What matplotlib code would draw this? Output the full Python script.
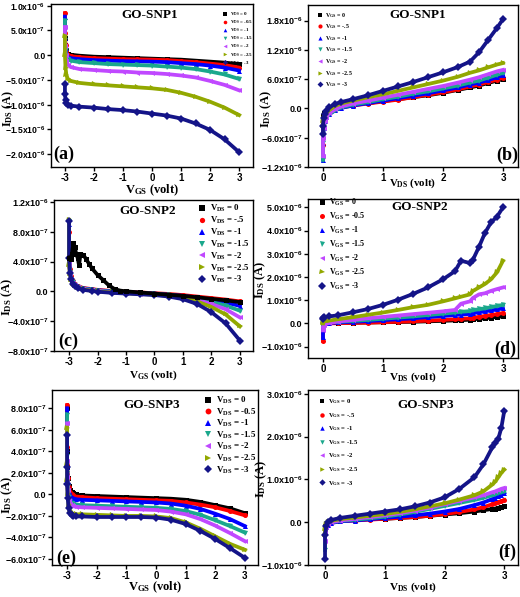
import numpy as np
import matplotlib
matplotlib.use("Agg")
import matplotlib.pyplot as plt
from matplotlib.lines import Line2D
from matplotlib.ticker import MultipleLocator, FuncFormatter

plt.rcParams.update({
    "font.family": "Liberation Serif",
    "font.weight": "bold",
    "mathtext.fontset": "custom",
    "mathtext.rm": "Liberation Sans:bold",
    "mathtext.bf": "Liberation Serif:bold",
    "mathtext.it": "Liberation Serif:bold",
    "axes.linewidth": 1.0,
})

W, H = 520, 597

colors = ['#000000', '#ff0000', '#0000ff', '#1aa88c', '#c048ff', '#92a800', '#141488']
markers = ['s', 'o', '^', 'v', '<', '>', 'D']

# ---- (a) GO-SNP1, I_DS vs V_GS, values x1e-7 ----
a_x = [-3.0, -3.0, -2.98, -2.95, -2.9, -2.8, -2.5, -2, -1.5, -1, -0.5, 0, 0.5, 1, 1.5, 2, 2.5, 3]
a_y = [
    [3.5, 2.0, 1.0, 0.5, 0.3, 0.1, -0.1, -0.3, -0.4, -0.5, -0.6, -0.7, -0.8, -0.9, -1.1, -1.3, -1.5, -1.8],
    [8.5, 4.5, 2.0, 0.8, 0.1, -0.2, -0.4, -0.6, -0.7, -0.8, -0.85, -0.9, -1.0, -1.2, -1.4, -1.7, -2.0, -2.5],
    [7.8, 3.5, 1.5, 0.3, -0.3, -0.6, -0.8, -1.0, -1.1, -1.2, -1.25, -1.3, -1.4, -1.6, -1.8, -2.1, -2.5, -3.1],
    [7.0, 3.0, 1.0, -0.3, -0.8, -1.1, -1.4, -1.6, -1.8, -1.9, -2.0, -2.1, -2.3, -2.5, -2.8, -3.3, -3.9, -4.8],
    [5.7, 1.8, 0.0, -1.2, -1.9, -2.4, -2.8, -3.0, -3.2, -3.3, -3.5, -3.6, -3.8, -4.1, -4.5, -5.2, -6.0, -7.1],
    [3.8, 0.0, -2.5, -4.0, -4.8, -5.2, -5.6, -5.9, -6.1, -6.3, -6.5, -6.7, -7.0, -7.6, -8.4, -9.4, -10.6, -12.1],
    [-5.8, -7.8, -9.0, -9.7, -10.0, -10.2, -10.4, -10.6, -10.9, -11.1, -11.4, -11.8, -12.2, -12.8, -13.8, -15.1, -17.0, -19.6],
]
a_labels = ['0', '-0.5', '-1', '-1.5', '-2', '-2.5', '-3']

# ---- (b) GO-SNP1, I_DS vs V_DS, values x1e-7 ----
b_x = [0.0, 0.0, 0.01, 0.03, 0.05, 0.1, 0.2, 0.3, 0.5, 0.75, 1.0, 1.25, 1.5, 1.75, 2.0, 2.25, 2.45, 2.6, 2.75, 2.9, 3.0]
b_y = [
    [-2.0, -1.5, -1.0, -1.0, -0.7, -0.3, 0.3, 0.5, 0.8, 1.1, 1.5, 1.9, 2.3, 2.7, 3.2, 3.8, 4.3, 4.7, 5.2, 5.7, 6.0],
    [-7.5, -4.0, -2.5, -1.8, -1.4, -0.9, -0.2, 0.2, 0.6, 1.0, 1.4, 1.8, 2.3, 2.8, 3.3, 3.9, 4.5, 4.9, 5.4, 5.9, 6.3],
    [-10.5, -7.0, -4.0, -2.5, -1.8, -1.2, -0.4, 0.1, 0.6, 1.1, 1.6, 2.1, 2.6, 3.1, 3.7, 4.3, 4.9, 5.3, 5.8, 6.4, 6.8],
    [-10.5, -7.0, -4.5, -2.8, -2.0, -1.2, -0.4, 0.2, 0.8, 1.3, 1.9, 2.4, 3.0, 3.5, 4.1, 4.7, 5.3, 5.7, 6.3, 6.9, 7.3],
    [-9.8, -6.0, -4.0, -2.5, -1.8, -1.0, -0.2, 0.4, 1.0, 1.6, 2.2, 2.8, 3.4, 4.0, 4.6, 5.3, 5.9, 6.4, 7.0, 7.6, 7.9],
    [-3.5, -2.5, -2.0, -1.5, -1.0, -0.4, 0.5, 1.0, 1.6, 2.3, 2.9, 3.6, 4.3, 5.0, 5.7, 6.5, 7.3, 7.8, 8.4, 9.0, 9.3],
    [-5.2, -3.5, -2.0, -1.2, -0.6, 0.2, 0.9, 1.3, 1.9, 2.7, 3.6, 4.5, 5.4, 6.4, 7.4, 8.5, 9.6, 11.5, 14.0, 16.5, 18.3],
]
b_labels = ['0', '-.5', '-1', '-1.5', '-2', '-2.5', '-3']

# ---- (c) GO-SNP2, I_DS vs V_GS, values x1e-7 ----
c_x = [-3.0, -3.0, -2.97, -2.93, -2.88, -2.8, -2.7, -2.5, -2.2, -2.0, -1.5, -1.0, -0.5, 0.0, 0.5, 1.0, 1.5, 2.0, 2.5, 3.0]
c_black_x = [-3.0, -2.95, -2.9, -2.85, -2.8, -2.75, -2.7, -2.65, -2.6, -2.5, -2.4, -2.3, -2.2, -2.0, -1.8,
             -1.6, -1.4, -1.2, -1.0, -0.5, 0, 0.5, 1, 1.5, 2, 2.5, 3]
c_black_y = [4.5, 4.4, 5.0, 6.5, 6.0, 5.0, 4.5, 3.5, 5.0, 4.9, 4.3, 3.7, 3.1, 2.2, 1.5,
             0.8, 0.3, 0.1, 0.0, -0.15, -0.3, -0.45, -0.6, -0.8, -1.0, -1.2, -1.45]
c_y = [
    [8.0, 4.8, 3.0, 2.0, 1.4, 1.0, 0.7, 0.45, 0.3, 0.2, 0.05, -0.05, -0.15, -0.25, -0.35, -0.5, -0.7, -0.9, -1.1, -1.35],
    [9.0, 4.5, 2.8, 1.8, 1.3, 0.9, 0.65, 0.4, 0.25, 0.15, 0.0, -0.1, -0.2, -0.3, -0.45, -0.6, -0.85, -1.15, -1.5, -1.95],
    [9.5, 4.2, 2.6, 1.7, 1.2, 0.85, 0.6, 0.35, 0.2, 0.1, -0.05, -0.15, -0.25, -0.35, -0.5, -0.7, -1.0, -1.4, -1.9, -2.6],
    [4.8, 3.7, 2.4, 1.6, 1.1, 0.8, 0.55, 0.3, 0.15, 0.05, -0.1, -0.2, -0.3, -0.4, -0.55, -0.8, -1.15, -1.7, -2.4, -3.5],
    [9.6, 3.5, 2.3, 1.5, 1.0, 0.75, 0.5, 0.25, 0.1, 0.0, -0.15, -0.25, -0.35, -0.45, -0.6, -0.9, -1.35, -2.1, -3.1, -4.7],
    [9.4, 4.5, 2.5, 1.6, 1.0, 0.7, 0.45, 0.2, 0.05, -0.05, -0.2, -0.3, -0.4, -0.5, -0.7, -1.05, -1.7, -2.8, -4.3, -6.6],
]
c_labels = ['0', '-.5', '-1', '-1.5', '-2', '-2.5', '-3']

# ---- (d) GO-SNP2, I_DS vs V_DS, values x1e-6 ----
d_x = [0.0, 0.0, 0.02, 0.1, 0.25, 0.5, 0.75, 1.0, 1.25, 1.5, 1.75, 2.0, 2.2, 2.3, 2.45, 2.5, 2.6, 2.7, 2.8, 2.9, 3.0]
d_y = [
    [0.0, 0.0, 0.0, 0.01, 0.02, 0.03, 0.04, 0.05, 0.06, 0.07, 0.09, 0.11, 0.13, 0.14, 0.16, 0.18, 0.2, 0.22, 0.25, 0.28, 0.3],
    [-0.75, -0.3, -0.05, 0.0, 0.01, 0.02, 0.03, 0.05, 0.07, 0.09, 0.12, 0.15, 0.18, 0.2, 0.22, 0.25, 0.28, 0.32, 0.36, 0.4, 0.45],
    [-0.6, -0.2, 0.0, 0.02, 0.04, 0.07, 0.1, 0.14, 0.18, 0.22, 0.27, 0.32, 0.36, 0.38, 0.41, 0.44, 0.48, 0.52, 0.56, 0.6, 0.65],
    [-0.1, 0.0, 0.02, 0.04, 0.07, 0.11, 0.15, 0.2, 0.25, 0.3, 0.36, 0.42, 0.47, 0.5, 0.53, 0.57, 0.61, 0.65, 0.7, 0.75, 0.8],
    [-0.3, -0.15, -0.05, 0.02, 0.08, 0.15, 0.22, 0.28, 0.34, 0.4, 0.46, 0.52, 0.58, 0.85, 0.95, 1.1, 1.25, 1.3, 1.4, 1.48, 1.55],
    [0.0, 0.05, 0.08, 0.12, 0.18, 0.27, 0.37, 0.47, 0.58, 0.7, 0.8, 0.95, 1.08, 1.15, 1.25, 1.4, 1.55, 1.7, 1.9, 2.2, 2.7],
    [0.2, 0.25, 0.27, 0.3, 0.35, 0.48, 0.62, 0.8, 1.02, 1.27, 1.55, 1.9, 2.25, 2.7, 2.6, 2.75, 3.3, 3.9, 4.35, 4.6, 5.0],
]
d_labels = ['0', '-0.5', '-1', '-1.5', '-2', '-2.5', '-3']

# ---- (e) GO-SNP3, I_DS vs V_GS, values x1e-7 ----
e_x = [-3.0, -3.0, -3.0, -2.98, -2.95, -2.9, -2.85, -2.8, -2.7, -2.5, -2.0, -1.5, -1.0, -0.5, 0.0, 0.5, 1.0, 1.5, 2.0, 2.5, 3.0]
e_y = [
    [8.0, 4.0, 2.5, 1.5, 0.8, 0.4, 0.2, 0.1, 0.0, -0.1, -0.15, -0.2, -0.25, -0.3, -0.35, -0.4, -0.5, -0.7, -1.0, -1.3, -1.75],
    [8.3, 4.4, 2.7, 1.5, 0.7, 0.2, 0.0, -0.1, -0.2, -0.25, -0.35, -0.4, -0.45, -0.5, -0.55, -0.6, -0.75, -0.95, -1.2, -1.55, -1.95],
    [8.0, 4.2, 2.5, 1.2, 0.3, -0.1, -0.25, -0.35, -0.45, -0.5, -0.55, -0.6, -0.65, -0.7, -0.75, -0.85, -1.05, -1.35, -1.8, -2.3, -2.95],
    [7.4, 3.6, 2.0, 0.8, -0.2, -0.6, -0.8, -0.9, -0.95, -1.0, -1.05, -1.1, -1.15, -1.2, -1.25, -1.35, -1.55, -1.9, -2.4, -2.95, -3.55],
    [6.6, 3.1, 1.6, 0.4, -0.5, -0.9, -1.0, -1.1, -1.15, -1.2, -1.25, -1.3, -1.35, -1.4, -1.45, -1.6, -1.85, -2.3, -2.9, -3.6, -4.35],
    [6.2, 2.8, 1.3, 0.0, -1.0, -1.5, -1.7, -1.8, -1.85, -1.85, -1.9, -1.95, -2.0, -2.0, -2.05, -2.2, -2.6, -3.2, -3.9, -4.6, -5.15],
    [5.5, 2.5, 1.0, -0.3, -1.3, -1.7, -1.9, -2.0, -2.05, -2.05, -2.1, -2.1, -2.1, -2.1, -2.15, -2.35, -2.75, -3.4, -4.15, -5.0, -5.9],
]
e_labels = ['0', '-0.5', '-1', '-1.5', '-2', '-2.5', '-3']

# ---- (f) GO-SNP3, I_DS vs V_DS, values x1e-6 ----
f_x = [0.0, 0.0, 0.02, 0.05, 0.1, 0.25, 0.5, 0.75, 1.0, 1.25, 1.5, 1.75, 2.0, 2.25, 2.5, 2.65, 2.8, 2.85, 2.9, 2.95, 3.0]
f_y = [
    [-0.15, -0.1, -0.05, 0.0, 0.02, 0.04, 0.06, 0.07, 0.08, 0.1, 0.12, 0.15, 0.18, 0.21, 0.25, 0.28, 0.31, 0.32, 0.34, 0.35, 0.37],
    [-0.25, -0.15, -0.08, -0.04, -0.01, 0.02, 0.04, 0.06, 0.08, 0.1, 0.12, 0.15, 0.19, 0.24, 0.3, 0.35, 0.42, 0.44, 0.47, 0.49, 0.52],
    [-0.4, -0.2, -0.12, -0.06, -0.02, 0.02, 0.04, 0.07, 0.1, 0.13, 0.16, 0.2, 0.25, 0.31, 0.4, 0.46, 0.54, 0.57, 0.61, 0.64, 0.68],
    [-0.65, -0.3, -0.1, -0.04, 0.0, 0.03, 0.06, 0.09, 0.13, 0.18, 0.24, 0.31, 0.38, 0.45, 0.52, 0.57, 0.63, 0.65, 0.68, 0.7, 0.72],
    [-0.43, -0.25, -0.12, -0.05, 0.0, 0.04, 0.08, 0.12, 0.16, 0.21, 0.27, 0.34, 0.42, 0.5, 0.58, 0.63, 0.7, 0.72, 0.75, 0.78, 0.8],
    [-0.3, -0.15, -0.05, 0.0, 0.03, 0.07, 0.11, 0.15, 0.19, 0.24, 0.3, 0.37, 0.44, 0.53, 0.63, 0.72, 0.88, 0.95, 1.05, 1.15, 1.23],
    [-0.85, -0.3, -0.1, 0.0, 0.05, 0.1, 0.15, 0.2, 0.25, 0.3, 0.37, 0.46, 0.58, 0.78, 1.05, 1.35, 1.75, 1.85, 1.95, 2.2, 2.6],
]
f_labels = ['0', '-.5', '-1', '-1.5', '-2', '-2.5', '-3']


def sci(v, pos):
    if abs(v) < 1e-12:
        return '0.0'
    e = int(np.floor(np.log10(abs(v)) + 1e-9))
    return r'$\mathrm{%.1fx10^{%d}}$' % (v / 10 ** e, e)


def make_axes(fig, l, t, r, b):
    return fig.add_axes([l / W, 1 - b / H, (r - l) / W, (b - t) / H])


def style(ax, xlim, ylim, ystep, xlab, ylab, xlab_y, ylab_xy, xfs=8.5, yts=6.5, yfs=9):
    ax.set_xlim(*xlim)
    ax.set_ylim(*ylim)
    ax.xaxis.set_major_locator(MultipleLocator(1))
    ax.yaxis.set_major_locator(MultipleLocator(ystep))
    ax.yaxis.set_major_formatter(FuncFormatter(sci))
    ax.xaxis.set_major_formatter(FuncFormatter(lambda v, p: '%d' % round(v)))
    ax.tick_params(direction='out', length=3, width=1, pad=1.0,
                   labelfontfamily='Liberation Sans')
    ax.tick_params(axis='x', labelsize=7)
    ax.tick_params(axis='y', labelsize=yts)
    ax.set_xlabel(xlab, fontsize=xfs, fontweight='bold', va='center')
    ax.xaxis.set_label_coords(0.5, xlab_y)
    ax.set_ylabel(ylab, fontsize=yfs, fontweight='bold', va='center')
    ax.yaxis.set_label_coords(*ylab_xy)


def draw(ax, x, ys, scale, start=0):
    for i, y in enumerate(ys):
        k = i + start
        ax.plot(x, np.array(y) * scale, color=colors[k], lw=2.7, marker=markers[k],
                ms=3.6, mew=0, zorder=2 + k)


def legend(ax, var, labels, mx, my, fs, spacing, ms):
    handles = [Line2D([], [], ls='none', marker=markers[i], color=colors[i], ms=ms, mew=0)
               for i in range(7)]
    texts = [r'$\mathbf{V_{%s}}$ = %s' % (var, s) for s in labels]
    fs_px = fs * 100 / 72
    bb = ax.get_position()
    ax_l, ax_t = bb.x0 * W, (1 - bb.y1) * H
    ax_w, ax_h = bb.width * W, bb.height * H
    x0 = (mx - 0.5 * fs_px - ax_l) / ax_w
    y0 = 1 - (my - 0.7 * fs_px - ax_t) / ax_h
    ax.legend(handles, texts, loc='upper left', bbox_to_anchor=(x0, y0), frameon=False,
              prop={'family': 'Liberation Serif', 'weight': 'bold', 'size': fs},
              handlelength=1.0, handletextpad=0.4, labelspacing=spacing,
              borderpad=0, borderaxespad=0)


def tags(ax, title, txy, tag, gxy):
    ax.text(txy[0], txy[1], title, transform=ax.transAxes, ha='center', va='center',
            fontsize=9.5, fontweight='bold', family='Liberation Serif', zorder=20)
    ax.text(gxy[0], gxy[1], tag, transform=ax.transAxes, ha='center', va='center',
            fontsize=13, fontweight='bold', family='Liberation Serif', zorder=20)


fig = plt.figure(figsize=(W / 100, H / 100), dpi=100)

VGS = r'$\mathbf{V_{GS}}$ (volt)'
VDS = r'$\mathbf{V_{DS}}$ (volt)'
IDS = r'$\mathbf{I_{DS}}$ (A)'

# (a)
ax = make_axes(fig, 51, 4, 253, 167)
draw(ax, a_x, a_y, 1e-7)
style(ax, (-3.48, 3.48), (-2.26e-6, 1.035e-6), 5e-7, VGS, IDS, -0.145, (-0.212, 0.36), 9,
      yts=6.2, yfs=8.6)
legend(ax, 'DS', a_labels, 225, 14, 3.6, 0.1, 2.6)
tags(ax, 'GO-SNP1', (0.49, 0.93), '(a)', (0.065, 0.08))

# (b)
ax = make_axes(fig, 308, 5, 518, 167)
draw(ax, b_x, b_y, 1e-7)
style(ax, (-0.25, 3.25), (-1.2e-6, 2.12e-6), 6e-7, VDS, IDS, -0.10, (-0.2, 0.36), 7.8)
legend(ax, 'GS', b_labels, 320, 15, 4.3, 0.45, 3)
tags(ax, 'GO-SNP1', (0.52, 0.94), '(b)', (0.95, 0.07))

# (c)
ax = make_axes(fig, 54, 200, 253, 351)
ax.plot(c_black_x, np.array(c_black_y) * 1e-7, color=colors[0], lw=2.7, marker=markers[0],
        ms=3.6, mew=0, zorder=9)
draw(ax, c_x, c_y, 1e-7, start=1)
style(ax, (-3.53, 3.46), (-8e-7, 1.225e-6), 4e-7, VGS, IDS, -0.16, (-0.235, 0.36), 8)
legend(ax, 'DS', c_labels, 202, 209, 6.3, 0.08, 3.8)
tags(ax, 'GO-SNP2', (0.47, 0.93), '(c)', (0.07, 0.066))

# (d)
ax = make_axes(fig, 308, 199, 518, 358)
draw(ax, d_x, d_y, 1e-6)
style(ax, (-0.25, 3.25), (-1.49e-6, 5.36e-6), 1e-6, VDS, IDS, -0.12, (-0.225, 0.49), 8)
legend(ax, 'GS', d_labels, 322, 202, 5.8, 0.35, 3.6)
tags(ax, 'GO-SNP2', (0.53, 0.95), '(d)', (0.94, 0.057))

# (e)
ax = make_axes(fig, 52, 390, 258, 565)
draw(ax, e_x, e_y, 1e-7)
style(ax, (-3.51, 3.44), (-6.56e-7, 9.7e-7), 2e-7, VGS, IDS, -0.125, (-0.215, 0.40), 9)
legend(ax, 'DS', e_labels, 208, 401, 6.5, 0.05, 4.2)
tags(ax, 'GO-SNP3', (0.485, 0.915), '(e)', (0.07, 0.04))

# (f)
ax = make_axes(fig, 308, 390, 518, 565)
draw(ax, f_x, f_y, 1e-6)
style(ax, (-0.285, 3.23), (-1e-6, 3.09e-6), 1e-6, VDS, IDS, -0.125, (-0.222, 0.49), 8)
legend(ax, 'GS', f_labels, 322, 402, 4.8, 0.7, 3.2)
tags(ax, 'GO-SNP3', (0.56, 0.915), '(f)', (0.95, 0.074))

fig.savefig('out.png', dpi=100)
